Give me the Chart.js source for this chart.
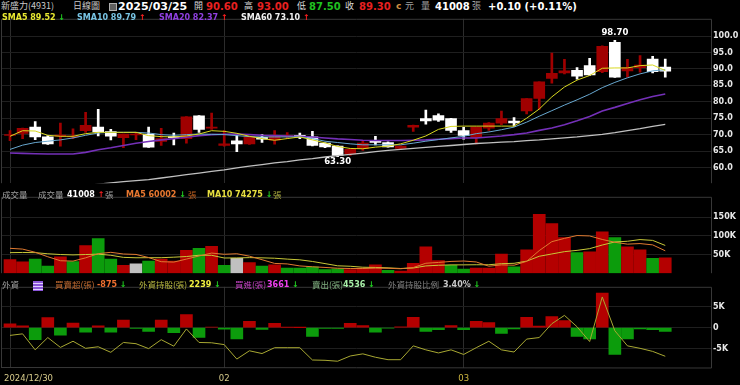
<!DOCTYPE html>
<html>
<head>
<meta charset="utf-8">
<script src="https://cdn.jsdelivr.net/npm/chart.js@4.4.1/dist/chart.umd.min.js"></script>
<style>
body { margin:0; background:#000; width:740px; height:385px; overflow:hidden; position:relative; font-family:"DejaVu Sans", sans-serif; }
canvas { position:absolute; left:0; }
.t { position:absolute; white-space:nowrap; line-height:1; font-weight:bold; font-size:10px; }
.c { font-family:"Noto Sans CJK TC", sans-serif; font-weight:normal; }
.s { font-size:8px; }
.up { color:#ff2020; }
.dn { color:#20d020; }
</style>
</head>
<body>
<!-- header -->
<span class="t c" style="left:1px;top:1px;font-size:9px;color:#c8c8c8">新盛力(4931)</span>
<span class="t c" style="left:73px;top:1px;font-size:9px;color:#c8c8c8">日線圖</span>
<div style="position:absolute;left:109px;top:3px;width:6px;height:6px;border:1px solid #b0b0b0;background:#606060"></div>
<span class="t" style="left:118px;top:1px;font-size:11px;color:#fff">2025/03/25</span>
<span class="t c" style="left:194px;top:1px;font-size:9px;color:#d8d8d8">開</span>
<span class="t" style="left:206px;top:2px;color:#e82020">90.60</span>
<span class="t c" style="left:244px;top:1px;font-size:9px;color:#d8d8d8">高</span>
<span class="t" style="left:257px;top:2px;color:#e82020">93.00</span>
<span class="t c" style="left:297px;top:1px;font-size:9px;color:#d8d8d8">低</span>
<span class="t" style="left:309px;top:2px;color:#20c020">87.50</span>
<span class="t c" style="left:345px;top:1px;font-size:9px;color:#d8d8d8">收</span>
<span class="t" style="left:359px;top:2px;color:#e82020">89.30</span>
<span class="t" style="left:396px;top:2px;font-size:9px;color:#d09040">c</span>
<span class="t c" style="left:405px;top:1px;font-size:9px;color:#a0a0a0">元</span>
<span class="t c" style="left:421px;top:1px;font-size:9px;color:#a0a0a0">量</span>
<span class="t" style="left:435px;top:2px;color:#fff">41008</span>
<span class="t c" style="left:472px;top:1px;font-size:9px;color:#a0a0a0">張</span>
<span class="t" style="left:488px;top:2px;color:#fff">+0.10 (+0.11%)</span>

<canvas id="cMain" width="740" height="178" style="top:12px"></canvas>
<canvas id="cVol" width="740" height="90" style="top:190px"></canvas>
<canvas id="cFor" width="740" height="105" style="top:280px"></canvas>

<!-- legends -->
<span class="t s" style="left:2px;top:14px;color:#e8e830">SMA5 89.52 <span class="dn">↓</span></span>
<span class="t s" style="left:77px;top:14px;color:#78c4e4">SMA10 89.79 <span class="up">↑</span></span>
<span class="t s" style="left:159px;top:14px;color:#9040e0">SMA20 82.37 <span class="up">↑</span></span>
<span class="t s" style="left:241px;top:14px;color:#f0f0f0">SMA60 73.10 <span class="up">↑</span></span>

<span class="t c" style="left:2px;top:190px;font-size:8.5px;color:#a0a0a0">成交量</span>
<span class="t c" style="left:38px;top:190px;font-size:8.5px;color:#a0a0a0">成交量</span>
<span class="t s" style="left:67px;top:191px;color:#fff">41008 <span class="up">↑</span></span>
<span class="t c" style="left:105px;top:190px;font-size:8.5px;color:#a0a0a0">張</span>
<span class="t s" style="left:126px;top:191px;color:#e87830">MA5 60002 <span class="dn">↓</span></span>
<span class="t c" style="left:188px;top:190px;font-size:8.5px;color:#c06020">張</span>
<span class="t s" style="left:207px;top:191px;color:#e8e040">MA10 74275 <span class="dn">↓</span></span>
<span class="t c" style="left:273px;top:190px;font-size:8.5px;color:#b0b040">張</span>

<span class="t c" style="left:2px;top:280px;font-size:8.5px;color:#a0a0a0">外資</span>
<div style="position:absolute;left:33px;top:281px;width:10px;height:10px;background:#8a56d8;background-image:repeating-linear-gradient(#8a56d8 0 2px,#e0d0ff 2px 3px)"></div>
<span class="t c" style="left:55px;top:280px;font-size:8.5px;color:#c06a30">買賣超(張)</span>
<span class="t s" style="left:97px;top:281px;color:#f07030">-875 <span class="dn">↓</span></span>
<span class="t c" style="left:139px;top:280px;font-size:8.5px;color:#b8b840">外資持股(張)</span>
<span class="t s" style="left:189px;top:281px;color:#f0f040">2239 <span class="dn">↓</span></span>
<span class="t c" style="left:235px;top:280px;font-size:8.5px;color:#c040c0">買進(張)</span>
<span class="t s" style="left:267px;top:281px;color:#f040f0">3661 <span class="dn">↓</span></span>
<span class="t c" style="left:312px;top:280px;font-size:8.5px;color:#80b080">賣出(張)</span>
<span class="t s" style="left:343px;top:281px;color:#a8f0a8">4536 <span class="dn">↓</span></span>
<span class="t c" style="left:388px;top:280px;font-size:8.5px;color:#808080">外資持股比例</span>
<span class="t s" style="left:443px;top:281px;color:#c8c8c8">3.40% <span class="dn">↓</span></span>

<script>
// trading days shown
var dates = ['2024/12/30','2024/12/31','2025/01/02','2025/01/03','2025/01/06','2025/01/07','2025/01/08','2025/01/09','2025/01/10',
  '2025/01/13','2025/01/14','2025/01/15','2025/01/16','2025/01/17','2025/01/20','2025/01/21','2025/01/22',
  '2025/02/03','2025/02/04','2025/02/05','2025/02/06','2025/02/07','2025/02/10','2025/02/11','2025/02/12','2025/02/13','2025/02/14',
  '2025/02/17','2025/02/18','2025/02/19','2025/02/20','2025/02/21','2025/02/24','2025/02/25','2025/02/26','2025/02/27',
  '2025/03/03','2025/03/04','2025/03/05','2025/03/06','2025/03/07','2025/03/10','2025/03/11','2025/03/12','2025/03/13','2025/03/14',
  '2025/03/17','2025/03/18','2025/03/19','2025/03/20','2025/03/21','2025/03/24','2025/03/25'];
var tickIdx = [0, 17, 36];
var tickLabels = ['2024/12/30', '02', '03'];

var opens  = [69.8,70.4,72.3,69.3,69.5,69.3,71.2,72.3,70.9,69.1,69.9,70.2,67.9,69.4,68.8,75.7,72.0,66.7,68.1,67.2,69.2,68.3,69.4,69.8,69.3,67.4,66.5,64.1,65.7,68.2,67.6,65.8,72.3,74.9,75.8,74.9,71.2,69.1,72.0,73.5,74.1,77.2,81.0,87.1,88.8,89.6,91.0,89.2,98.1,89.4,90.4,93.0,90.6];
var highs  = [71.2,72.0,74.0,69.7,73.5,71.8,76.8,77.7,71.6,70.2,70.7,72.3,71.9,70.5,75.5,75.8,76.6,71.2,69.8,69.5,70.0,71.2,70.6,70.5,71.0,67.5,66.6,65.8,68.0,69.5,67.8,66.6,72.9,77.5,76.3,75.0,72.2,72.3,73.7,77.2,75.2,81.0,86.1,94.8,92.9,90.4,93.2,97.0,98.7,92.9,94.1,93.8,93.0];
var lows   = [68.2,68.8,68.5,67.0,66.5,68.8,70.7,69.6,68.4,66.0,68.5,66.1,66.7,66.9,67.4,70.7,71.6,66.5,64.8,67.0,67.6,67.1,68.9,68.8,66.6,66.0,63.3,63.7,65.2,66.9,66.2,65.5,71.0,73.2,74.0,70.7,68.6,67.2,71.3,73.0,72.6,76.3,77.7,85.7,88.5,86.9,88.0,88.9,87.4,87.5,89.0,88.8,87.5];
var closes = [70.0,71.9,69.3,67.2,69.9,69.6,72.8,70.8,69.5,70.2,70.2,66.2,68.8,69.1,75.4,71.6,72.3,67.2,67.2,69.3,68.6,69.8,69.7,69.2,66.7,66.3,63.7,65.5,67.4,67.6,66.3,66.5,72.8,74.2,74.4,71.3,69.8,72.3,73.5,74.9,73.6,81.0,86.1,88.7,89.4,87.8,88.2,96.9,87.5,90.4,91.2,89.2,89.3];
var prevClose = 69.4;

var sma5  = [69.5,71.2,71.1,69.8,69.5,69.5,70.3,70.7,70.7,70.7,70.7,69.7,69.4,69.3,69.6,70.2,71.2,71.0,70.4,69.5,68.8,68.3,68.8,69.3,68.4,67.5,66.4,65.8,65.7,66.2,66.5,67.2,68.3,69.6,71.6,72.5,72.6,72.6,72.6,72.6,72.6,75.0,77.8,81.5,84.5,86.6,88.0,90.2,90.3,90.3,91.0,91.2,89.52];
var sma10 = [65.5,66.8,67.6,68.0,68.4,69.0,69.8,70.5,70.7,70.7,70.7,70.5,70.0,69.8,70.0,70.2,70.1,70.0,69.7,69.4,69.3,69.3,69.3,69.3,68.8,68.0,67.6,67.2,66.9,66.9,66.9,66.9,67.4,68.0,68.5,69.0,69.5,70.3,70.8,71.5,72.3,73.8,75.6,77.3,79.0,80.6,82.3,84.3,85.9,87.3,88.5,89.4,89.79];
var sma20 = [64.4,64.3,64.2,64.1,64.1,64.1,64.6,65.4,66.0,66.7,67.4,67.9,68.4,68.8,69.2,69.7,70.0,70.1,70.2,70.0,69.8,69.7,69.6,69.5,69.3,69.0,68.7,68.5,68.3,68.2,68.2,68.2,68.3,68.4,68.6,68.8,69.0,69.0,69.3,69.6,70.0,70.5,71.3,72.0,73.0,74.2,75.5,77.2,78.3,79.5,80.6,81.6,82.37];
var sma60 = [52.0,52.4,52.8,53.3,53.7,54.1,54.5,54.9,55.3,55.7,56.0,56.3,56.8,57.3,57.8,58.3,58.8,59.3,59.9,60.4,60.9,61.4,61.8,62.3,62.7,63.2,63.6,64.0,64.4,64.8,65.2,65.5,65.8,66.1,66.4,66.7,67.0,67.3,67.5,67.7,67.9,68.2,68.4,68.7,69.0,69.3,69.7,70.1,70.6,71.2,71.8,72.5,73.1];

// volume in 張
var volume = [36400,30200,37800,18900,43900,31000,74000,93000,37800,21000,25000,32500,37800,32500,61000,66600,71800,21000,40000,28600,18900,22700,13600,13600,17300,9800,12000,9800,13600,22700,7500,5900,26400,70400,34000,21000,11300,13600,13600,51400,17300,62700,157500,133000,95400,55200,57500,110500,95400,70400,62700,40000,41008];
var volMa5 = [66600,64500,56000,44000,33400,32400,41100,52200,55900,51400,50200,41900,30800,29800,37800,46100,53900,50600,52100,45600,36100,26200,24800,19500,17200,15400,13300,12500,12500,13600,13100,11900,15200,26600,28800,31500,32600,30100,18700,22200,21400,31700,60500,84400,93200,100800,99700,90300,82800,77800,79300,75800,60002];
var volMa10 = [55000,55500,55000,52000,50000,49000,50000,51000,48000,42400,41300,41500,41500,42900,44600,48100,47900,40700,40900,41700,41100,40100,37700,35800,31400,25700,19800,18600,16000,15400,14300,12600,13900,19500,21200,22300,22300,22600,22600,25500,26500,32200,45300,51500,57700,61100,65700,75400,83600,85500,90000,87800,74275];

// foreign investors: net buy/sell and holdings (張)
var foreignNet = [950,440,-2870,2400,-1800,1100,-1100,450,-1100,1800,-200,-900,1800,-1200,3150,-2350,150,-370,-2700,1540,-440,1030,50,30,-2100,-150,-150,1030,500,-1100,-80,200,2500,-900,-500,500,-500,1500,1200,-1400,-300,2500,370,2640,1700,-2100,-2700,8300,-6400,-2700,-300,-500,-875];
var foreignHold = [6041,6321,3409,5649,3857,4977,3689,3969,2961,4754,4529,3633,5258,4082,7217,4754,4697,4361,1730,3242,2738,3801,3801,3801,1562,1505,1337,2289,2681,2065,1617,1617,4137,3409,2849,3409,2569,3801,4977,3409,3017,5369,5649,8169,9681,7610,4922,13041,6881,4137,3689,3129,2239];

var priceTicks = [60,65,70,75,80,85,90,95,100];
var volTicks = [50000,100000,150000];
var forTicks = [-5000,0,5000];

var RED = '#a00000', VRED = '#b40000', GREEN = '#0c9c0c', GRAY = '#c0c0c0';

function pts(arr) { return arr.map(function (v, i) { return { x: i, y: v }; }); }

var candleColors = closes.map(function (c, i) { return c >= opens[i] ? RED : '#ffffff'; });
var volColors = closes.map(function (c, i) {
  var p = i === 0 ? prevClose : closes[i - 1];
  return c > p ? VRED : (c < p ? GREEN : GRAY);
});
var forColors = foreignNet.map(function (v) { return v >= 0 ? VRED : GREEN; });

function xAxis() {
  return {
    type: 'linear', min: -0.635, max: 55.63, offset: false,
    afterBuildTicks: function (s) { s.ticks = tickIdx.map(function (v) { return { value: v }; }); },
    afterFit: function (s) { s.height = 0; },
    ticks: { display: false },
    grid: { color: '#2c2c2c', drawTicks: false, offset: false },
    border: { display: false }
  };
}
function yAxis(min, max, ticks, fmt) {
  return {
    position: 'right', min: min, max: max,
    afterBuildTicks: function (s) { s.ticks = ticks.map(function (v) { return { value: v }; }); },
    afterFit: function (s) { s.width = 29; },
    ticks: { color: '#e8e8e8', padding: 2, font: { family: 'DejaVu Sans', size: 8, weight: 'bold' }, callback: fmt },
    grid: { color: '#1f1f1f', drawTicks: false },
    border: { display: false }
  };
}

// panel frame: left, top and right edges
var frame = {
  id: 'frame',
  afterDraw: function (c) {
    var ctx = c.ctx, a = c.chartArea;
    ctx.save();
    ctx.strokeStyle = '#383838';
    ctx.lineWidth = 1;
    ctx.beginPath();
    ctx.moveTo(a.left - 0.5, a.bottom);
    ctx.lineTo(a.left - 0.5, a.top + 0.5);
    ctx.lineTo(a.right + 0.5, a.top + 0.5);
    ctx.lineTo(a.right + 0.5, a.bottom);
    if (c.canvas.id === 'cFor') ctx.lineTo(a.left - 0.5, a.bottom - 0.5);
    ctx.stroke();
    ctx.restore();
  }
};

var extremes = {
  id: 'extremes',
  afterDatasetsDraw: function (c) {
    var ctx = c.ctx, x = c.scales.x, y = c.scales.y;
    var hi = highs.indexOf(Math.max.apply(null, highs));
    var lo = lows.indexOf(Math.min.apply(null, lows));
    ctx.save();
    ctx.fillStyle = '#ffffff';
    ctx.font = 'bold 8.5px "DejaVu Sans"';
    ctx.textAlign = 'center';
    ctx.textBaseline = 'bottom';
    ctx.fillText(highs[hi].toFixed(2), x.getPixelForValue(hi), y.getPixelForValue(highs[hi]) - 3);
    ctx.textBaseline = 'top';
    ctx.fillText(lows[lo].toFixed(2), x.getPixelForValue(lo), y.getPixelForValue(lows[lo]) + 1);
    ctx.restore();
  }
};

var dateLabels = {
  id: 'dateLabels',
  afterDraw: function (c) {
    var ctx = c.ctx, x = c.scales.x, a = c.chartArea;
    ctx.save();
    ctx.font = '8.5px "DejaVu Sans"';
    ctx.textBaseline = 'middle';
    tickIdx.forEach(function (v, j) {
      var px = x.getPixelForValue(v);
      ctx.fillStyle = j === 2 ? '#d0b840' : '#d8cc8c';
      ctx.textAlign = j === 0 ? 'left' : 'center';
      ctx.fillText(tickLabels[j], j === 0 ? px - 6 : px, a.bottom + 11);
    });
    ctx.restore();
  }
};

function opts(scales, bottom) {
  return {
    responsive: false, animation: false, events: [],
    layout: { padding: { left: 2, right: 0, top: 0, bottom: bottom || 0 } },
    plugins: { legend: { display: false }, tooltip: { enabled: false } },
    scales: scales
  };
}
function line(arr, color, w, axis) {
  return { type: 'line', data: pts(arr), borderColor: color, borderWidth: w, pointRadius: 0, tension: 0, yAxisID: axis || 'y' };
}

new Chart(document.getElementById('cMain'), {
  type: 'bar',
  data: {
    datasets: [
      line(sma5, '#d8d820', 1),
      line(sma10, '#68a8d0', 1),
      line(sma20, '#7430b8', 1.6),
      line(sma60, '#c0c0c0', 1.3),
      { data: opens.map(function (o, i) { return { x: i, y: [o, closes[i]] }; }), backgroundColor: candleColors, barThickness: 11, grouped: false },
      { data: lows.map(function (l, i) { return { x: i, y: [l, highs[i]] }; }), backgroundColor: candleColors, barThickness: 2, grouped: false }
    ]
  },
  options: opts({ x: xAxis(), y: yAxis(55.22, 105.26, priceTicks, function (v) { return v.toFixed(1); }) }),
  plugins: [frame, extremes]
});

new Chart(document.getElementById('cVol'), {
  type: 'bar',
  data: {
    datasets: [
      line(volMa5, '#e07a30', 1),
      line(volMa10, '#c8c838', 1),
      { data: pts(volume), backgroundColor: volColors, barThickness: 12, grouped: false }
    ]
  },
  options: opts({ x: xAxis(), y: yAxis(0, 204500, volTicks, function (v) { return (v / 1000) + 'K'; }) }),
  plugins: [frame]
});

new Chart(document.getElementById('cFor'), {
  type: 'bar',
  data: {
    datasets: [
      line(foreignHold, '#a8a832', 1, 'yh'),
      { data: pts(foreignNet), backgroundColor: forColors, barThickness: 12, grouped: false }
    ]
  },
  options: opts({
    x: xAxis(),
    y: yAxis(-9670, 9800, forTicks, function (v) { return v === 0 ? '0' : (v / 1000) + 'K'; }),
    yh: { display: false, min: 105, max: 14889 }
  }, 17),
  plugins: [frame, dateLabels]
});
</script>
</body>
</html>
